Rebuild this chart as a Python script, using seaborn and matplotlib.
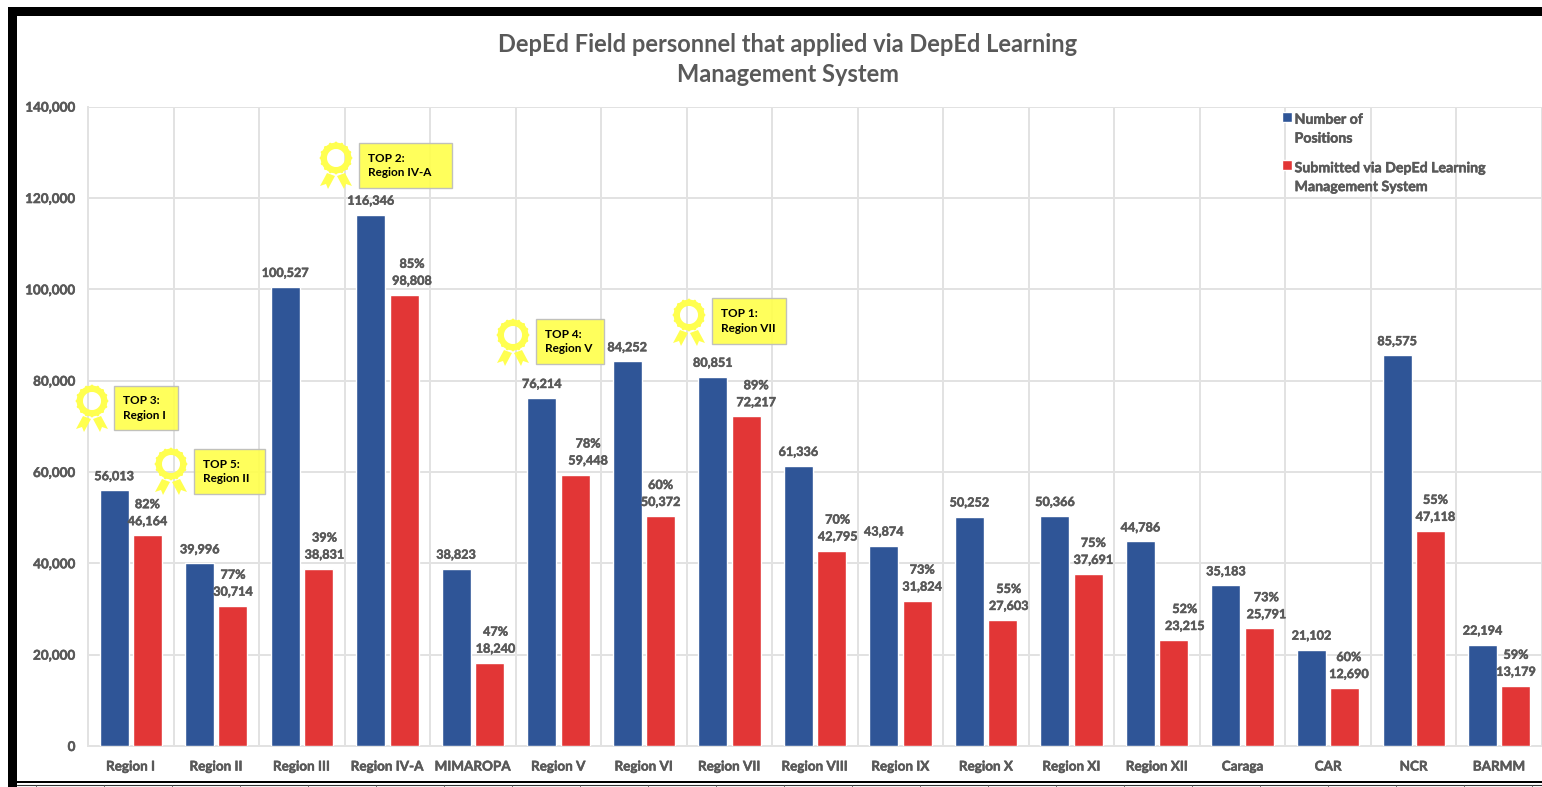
import numpy as np
import pandas as pd
import matplotlib
matplotlib.use("Agg")
import matplotlib.pyplot as plt
import matplotlib.patheffects as pe
from matplotlib.patches import Circle, Polygon, Rectangle, Wedge
from matplotlib.ticker import FuncFormatter, MultipleLocator
import seaborn as sns

regions = ["Region I", "Region II", "Region III", "Region IV-A", "MIMAROPA", "Region V",
           "Region VI", "Region VII", "Region VIII", "Region IX", "Region X", "Region XI",
           "Region XII", "Caraga", "CAR", "NCR", "BARMM"]
positions = [56013, 39996, 100527, 116346, 38823, 76214, 84252, 80851, 61336, 43874,
             50252, 50366, 44786, 35183, 21102, 85575, 22194]
submitted = [46164, 30714, 38831, 98808, 18240, 59448, 50372, 72217, 42795, 31824,
             27603, 37691, 23215, 25791, 12690, 47118, 13179]
percent = [82, 77, 39, 85, 47, 78, 60, 89, 70, 73, 55, 75, 52, 73, 60, 55, 59]

series_names = ["Number of\nPositions", "Submitted via DepEd Learning\nManagement System"]
title = "DepEd Field personnel that applied via DepEd Learning\nManagement System"

# top five callouts: text, ribbon centre, box (left, top, right, bottom) in picture pixels
callouts = [
    ("TOP 3:\nRegion I", (92, 401), (114, 386, 178, 430)),
    ("TOP 5:\nRegion II", (171, 464), (194, 449, 265, 494)),
    ("TOP 2:\nRegion IV-A", (336, 158), (359, 143, 452, 188)),
    ("TOP 4:\nRegion V", (513, 335), (536, 319, 604, 364)),
    ("TOP 1:\nRegion VII", (689, 315), (712, 298, 786, 344)),
]

# the red labels sit a little right of their bars in the original
red_nudge = [0, 0, 6, 8, 6, 13, 0, 10, 6, 5, 6, 5, 11, 7, 4, 5, 0]

BLUE = "#2F5597"
RED = "#E23636"
GRID = "#E2E2E2"
TEXT = "#595959"
YELLOW = "#FFFF4F"
W, H = 1542, 787

sns.set_theme(style="white")
plt.rcParams["font.family"] = ["Lato", "DejaVu Sans"]
plt.rcParams["font.weight"] = "bold"

# the source is a blurry screenshot, its small text reads heavier than plain Lato Bold
heavy = [pe.withStroke(linewidth=0.35, foreground=TEXT)]

df = pd.DataFrame({
    "region": regions * 2,
    "count": positions + submitted,
    "series": [series_names[0]] * len(regions) + [series_names[1]] * len(regions),
})

fig = plt.figure(figsize=(W / 100, H / 100), dpi=100, facecolor="white")
left, right, top, bottom = 88, W, 106.7, 746
ax = fig.add_axes([left / W, 1 - bottom / H, (right - left) / W, (bottom - top) / H])

sns.barplot(data=df, x="region", y="count", hue="series", order=regions,
            hue_order=series_names, palette=[BLUE, RED], width=0.78, gap=0.13,
            saturation=1, ax=ax, legend=True, zorder=3)

cat_w = 85.75
ax.set_xlim(-0.5, -0.5 + (right - left) / cat_w)
ax.set_ylim(0, 140000)
ax.yaxis.set_major_locator(MultipleLocator(20000))
ax.yaxis.set_major_formatter(FuncFormatter(lambda v, _: f"{int(v):,}"))
ax.set_xticks(np.arange(-0.5, 17, 1), minor=True)
ax.grid(True, axis="y", which="major", color=GRID, lw=1.4, zorder=0)
ax.grid(True, axis="x", which="minor", color=GRID, lw=1.4, zorder=0)
ax.grid(False, axis="x", which="major")
ax.set_axisbelow(True)
for side, sp in ax.spines.items():
    sp.set_visible(side in ("left", "bottom"))
    sp.set_color(GRID)
    sp.set_linewidth(1.4)
ax.set_xlabel("")
ax.set_ylabel("")
ax.tick_params(axis="both", which="both", length=0, colors=TEXT, labelsize=9.7)
ax.tick_params(axis="x", pad=10.5)
ax.tick_params(axis="y", pad=9)
for t in ax.get_xticklabels() + ax.get_yticklabels():
    t.set_path_effects(heavy)

label_kw = dict(textcoords="offset pixels", ha="center", va="center", color=TEXT,
                fontsize=9.1, fontweight="bold", zorder=6, path_effects=heavy)
for bar_blue, bar_red, n_pos, n_sub, pct, nudge in zip(
        ax.containers[0], ax.containers[1], positions, submitted, percent, red_nudge):
    xb = bar_blue.get_x() + bar_blue.get_width() / 2
    xr = bar_red.get_x() + bar_red.get_width() / 2
    ax.annotate(f"{n_pos:,}", (xb, n_pos), xytext=(0, 14), **label_kw)
    ax.annotate(f"{n_sub:,}", (xr, n_sub), xytext=(nudge, 14), **label_kw)
    ax.annotate(f"{pct}%", (xr, n_sub), xytext=(nudge, 31), **label_kw)

handles = ax.get_legend().legend_handles
leg = ax.legend(handles, series_names, loc="upper left",
                bbox_to_anchor=((1275 - left) / (right - left), 1.0),
                frameon=False, labelcolor=TEXT, handlelength=0.68, handleheight=0.68,
                handletextpad=0.2, labelspacing=1.25, borderaxespad=0, borderpad=0.5,
                prop={"weight": "bold", "size": 10.2})
for t in leg.get_texts():
    t.set_linespacing(1.68)
    t.set_path_effects(heavy)
# handles line up with the first text line, not the last
for p in leg.get_patches():
    p.set_y(p.get_y() + 9)

# overlay in picture pixels for the frame, title and callouts
ov = fig.add_axes([0, 0, 1, 1], zorder=10)
ov.set_xlim(0, W)
ov.set_ylim(H, 0)
ov.axis("off")
ov.patch.set_alpha(0)

ov.add_patch(Rectangle((8, 7), W - 8, 9, color="black", lw=0))
ov.add_patch(Rectangle((8, 7), 9, H - 7, color="black", lw=0))
ov.add_patch(Rectangle((8, 781), W - 8, 2.2, color="black", lw=0))
ov.plot([17, W], [784.5, 784.5], color="#333333", lw=0.8)
for tx in np.arange(36, W, 68):
    ov.plot([tx, tx], [784.5, H], color="#555555", lw=0.6)

ov.text(788, 59.5, title, ha="center", va="center", color=TEXT, fontsize=17,
        fontweight="bold", linespacing=1.4)

for text, (cx, cy), (x0, y0, x1, y1) in callouts:
    ov.add_patch(Rectangle((x0, y0), x1 - x0, y1 - y0, facecolor=YELLOW, alpha=0.93,
                           edgecolor="#BDBDBD", lw=1))
    ov.text(x0 + 9, (y0 + y1) / 2, text, ha="left", va="center", color="black",
            fontsize=8.5, fontweight="bold", linespacing=1.35)
    ov.add_patch(Wedge((cx, cy), 15.4, 0, 360, width=6.4, color=YELLOW, lw=0))
    for ang in np.arange(0, 360, 22.5):
        ov.add_patch(Circle((cx + 15 * np.cos(np.radians(ang)), cy + 15 * np.sin(np.radians(ang))),
                            1.4, color=YELLOW, lw=0))
    ov.add_patch(Polygon([(cx - 9, cy + 15), (cx - 16, cy + 28), (cx - 10, cy + 26),
                          (cx - 8, cy + 31), (cx - 1, cy + 18)], color=YELLOW, lw=0))
    ov.add_patch(Polygon([(cx + 9, cy + 15), (cx + 16, cy + 28), (cx + 10, cy + 26),
                          (cx + 8, cy + 31), (cx + 1, cy + 18)], color=YELLOW, lw=0))

fig.savefig("out.png", dpi=100, facecolor="white")
